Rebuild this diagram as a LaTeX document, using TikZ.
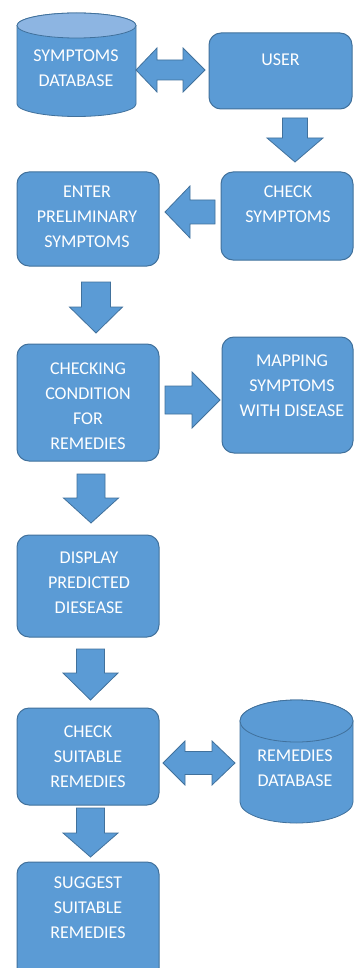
\documentclass[tikz,border=0pt]{standalone}
\usepackage{fontspec}
\setmainfont{Carlito}
\definecolor{boxblue}{HTML}{5B9BD5}
\definecolor{edgeblue}{HTML}{41719C}
\definecolor{topblue}{HTML}{8DB5E2}
\tikzset{
  box/.style={draw=edgeblue, fill=boxblue, line width=1pt, rounded corners=12pt, inner sep=0pt},
  blk/.style={draw=edgeblue, fill=boxblue, line width=0.8pt, line join=miter},
  txt/.style={text=white, font=\fontsize{18}{25}\selectfont, align=center, inner sep=0pt},
}
% cx, shaft half, head half, top y, head base y, tip y
\newcommand\blkdown[6]{\filldraw[blk] ({#1-#2},#4) -- ({#1+#2},#4) -- ({#1+#2},#5) -- ({#1+#3},#5) -- (#1,#6) -- ({#1-#3},#5) -- ({#1-#2},#5) -- cycle;}
% cy, shaft half, head half, tail x, head base x, tip x
\newcommand\blkhoriz[6]{\filldraw[blk] (#4,{#1-#2}) -- (#5,{#1-#2}) -- (#5,{#1-#3}) -- (#6,#1) -- (#5,{#1+#3}) -- (#5,{#1+#2}) -- (#4,{#1+#2}) -- cycle;}
% cy, shaft half, head half, left tip, left base, right base, right tip
\newcommand\blkdouble[7]{\filldraw[blk] (#4,#1) -- (#5,{#1-#3}) -- (#5,{#1-#2}) -- (#6,{#1-#2}) -- (#6,{#1-#3}) -- (#7,#1) -- (#6,{#1+#3}) -- (#6,{#1+#2}) -- (#5,{#1+#2}) -- (#5,{#1+#3}) -- cycle;}
% cx, rx, top cy, bottom cy, ry, top fill
\newcommand\dbcyl[6]{%
  \filldraw[blk] ({#1-#2},#3) -- ({#1-#2},#4) arc[start angle=180,end angle=360,x radius=#2pt,y radius=#5pt] -- ({#1+#2},#3) arc[start angle=0,end angle=180,x radius=#2pt,y radius=#5pt] -- cycle;
  \filldraw[blk, fill=#6] (#1,#3) ellipse[x radius=#2pt, y radius=#5pt];}
\begin{document}
\begin{tikzpicture}[x=1pt, y=-1pt]
\useasboundingbox (0,0) rectangle (354,968);
\clip (0,0) rectangle (354,968);
\fill[white] (0,0) rectangle (354,968);

% databases
\dbcyl{76.5}{59.5}{25.5}{104}{12.5}{topblue}
\node[txt] (symdb) at (76,68) {SYMPTOMS\\DATABASE};
\dbcyl{296.5}{56.5}{721}{802}{21}{boxblue}
\node[txt] (remdb) at (295,768.5) {REMEDIES\\DATABASE};

% boxes
\node[box, minimum width=143pt, minimum height=76pt] (user) at (280.5,71) {};
\node[txt] (usert) at (280.5,60) {USER};
\node[box, minimum width=132pt, minimum height=88pt] (check) at (287,216) {};
\node[txt] (checkt) at (288,204.5) {CHECK\\SYMPTOMS};
\node[box, minimum width=142pt, minimum height=94pt] (enter) at (88,219) {};
\node[txt] (entert) at (87,217) {ENTER\\PRELIMINARY\\SYMPTOMS};
\node[box, minimum width=142pt, minimum height=117pt] (cond) at (88,402.5) {};
\node[txt] (condt) at (88,406) {CHECKING\\CONDITION\\FOR\\REMEDIES};
\node[box, minimum width=131pt, minimum height=116pt] (map) at (287.5,395) {};
\node[txt] (mapt) at (292,385.5) {MAPPING\\SYMPTOMS\\WITH DISEASE};
\node[box, minimum width=142pt, minimum height=102pt] (disp) at (88,586) {};
\node[txt] (dispt) at (89,583) {DISPLAY\\PREDICTED\\DIESEASE};
\node[box, minimum width=142pt, minimum height=97pt] (suit) at (88,756.5) {};
\node[txt] (suitt) at (88,756.5) {CHECK\\SUITABLE\\REMEDIES};
\node[box, minimum width=142pt, minimum height=118pt] (sugg) at (88,921) {};
\node[txt] (suggt) at (88,907.5) {SUGGEST\\SUITABLE\\REMEDIES};

% block arrows
\blkdouble{70}{10}{22}{136}{157}{183}{205}
\blkdown{295}{12.5}{28}{118}{138}{162}
\blkhoriz{212}{12}{26}{215}{190}{165}
\blkdown{96}{14.5}{26.5}{282}{307}{333}
\blkhoriz{400}{14}{28}{165}{192}{220}
\blkdown{91}{14}{27.5}{474}{498}{523}
\blkdown{90.5}{14}{27.5}{649}{673}{700}
\blkdouble{763}{11.5}{22}{163}{185}{212}{235}
\blkdown{90.5}{14}{27.5}{808}{833}{857}
\end{tikzpicture}
\end{document}
